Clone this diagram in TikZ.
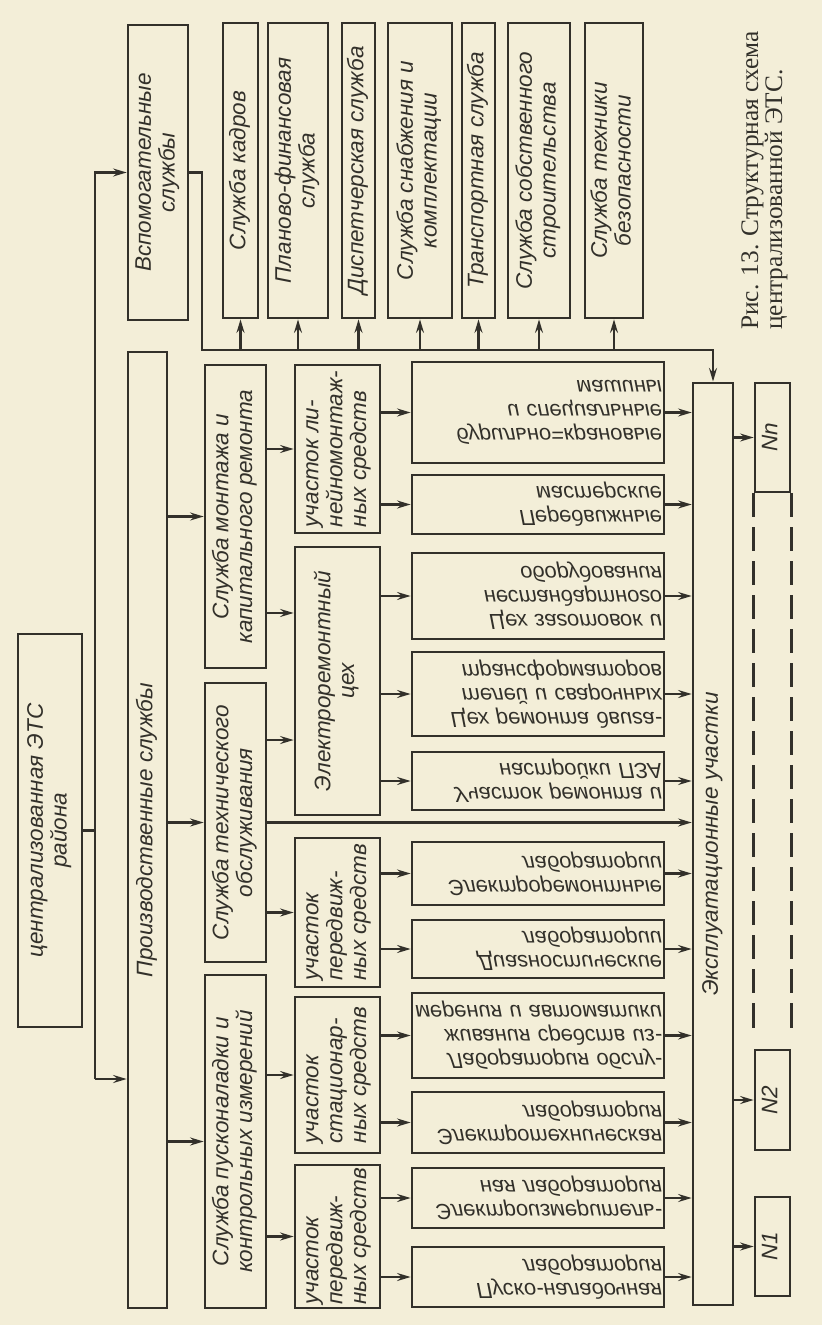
\documentclass[tikz,border=0pt]{standalone}
\usepackage{fontspec}
\usepackage{graphicx}
\setmainfont{Liberation Sans}
\newfontfamily\gost{Liberation Sans}
\newfontfamily\capfont{Liberation Serif}
\usetikzlibrary{arrows.meta}
\definecolor{paper}{RGB}{243,238,216}
\definecolor{ink}{RGB}{50,48,42}
\newcommand{\vtxt}[2][c]{\rotatebox{90}{\begin{tabular}{@{}#1@{}}#2\end{tabular}}}

\begin{document}
\begin{tikzpicture}[x=0.025cm, y=-0.025cm, >={Stealth[length=3.4mm, width=2mm, inset=1.2mm]},
	blk/.style={draw=ink, line width=1.9pt, fill=paper, inner sep=1pt, text=ink,
		font=\gost\itshape\fontsize{16}{17}\selectfont},
	lab/.style={blk, yscale=-1, minimum width=6.3cm, text width=6.2cm,
		inner xsep=0.05cm, align=right, font=\gost\itshape\fontsize{15.5}{17}\selectfont},
	lnk/.style={draw=ink, line width=1.6pt}]
	\fill[paper] (0,0) rectangle (822,1325);
	\useasboundingbox (0,0) rectangle (822,1325);
	% top of the tree
	\node[blk, minimum width=1.6cm, minimum height=9.825cm] (cent) at (50,830.5)
		{\vtxt{централизованная ЭТС\\района}};
	\node[blk, minimum width=1.5cm, minimum height=7.375cm] (vsp) at (158,172.5)
		{\vtxt{Вспомогательные\\службы}};
	\node[blk, minimum width=0.975cm, minimum height=23.9cm] (proizv) at (147.5,830)
		{\vtxt{Производственные службы}};
	% auxiliary services
	\foreach \nm/\cx/\bw/\txt in {kadr/240.5/0.875/{Служба кадров},
		plan/298/1.5/{Планово-финансовая\\служба},
		disp/358.5/0.825/{Диспетчерская служба},
		snab/420/1.6/{Служба снабжения и\\комплектации},
		trans/478.5/0.825/{Транспортная служба},
		stroi/539/1.55/{Служба собственного\\строительства},
		tb/614/1.45/{Служба техники\\безопасности}}
		{
			\node[blk, minimum width=\bw cm, minimum height=7.375cm] (\nm) at (\cx,170.5) {\vtxt{\txt}};
		}
	% production services
	\node[blk, minimum width=1.525cm, minimum height=7.575cm] (montazh) at (235.5,516.5)
		{\vtxt{Служба монтажа и\\капитального ремонта}};
	\node[blk, minimum width=1.525cm, minimum height=6.975cm] (tehob) at (235.5,822.5)
		{\vtxt{Служба технического\\обслуживания}};
	\node[blk, minimum width=1.525cm, minimum height=8.325cm] (pnr) at (235.5,1141.5)
		{\vtxt{Служба пусконаладки и\\контрольных измерений}};
	% sections
	\node[blk, minimum width=2.125cm, minimum height=4.2cm] (lin) at (337.5,449)
		{\vtxt[l]{участок ли-\\нейномонтаж-\\ных средств}};
	\node[blk, minimum width=2.125cm, minimum height=6.7cm] (erc) at (337.5,681)
		{\vtxt{Электроремонтный\\цех}};
	\node[blk, minimum width=2.125cm, minimum height=3.725cm] (per1) at (337.5,912.5)
		{\vtxt[l]{участок\\передвиж-\\ных средств}};
	\node[blk, minimum width=2.125cm, minimum height=3.9cm] (stac) at (337.5,1075)
		{\vtxt[l]{участок\\стационар-\\ных средств}};
	\node[blk, minimum width=2.125cm, minimum height=3.575cm] (per2) at (337.5,1236.5)
		{\vtxt[l]{участок\\передвиж-\\ных средств}};
	% workshops and laboratories
	\node[lab, minimum height=2.525cm] (bur) at (538,412.5) {бурильно=крановые\\и специальные\\машины};
	\node[lab, minimum height=1.475cm] (pm) at (538,504.5) {Передвижные\\мастерские};
	\node[lab, minimum height=2.15cm] (zag) at (538,596) {Цех заготовок и\\нестандартного\\оборудования};
	\node[lab, minimum height=2.1cm] (dvig) at (538,694) {Цех ремонта двига-\\телей и сварочных\\трансформаторов};
	\node[lab, minimum height=1.45cm] (pza) at (538,781) {Участок ремонта и\\настройки ПЗА};
	\node[lab, minimum height=1.575cm] (erl) at (538,873.5) {Электроремонтные\\лаборатории};
	\node[lab, minimum height=1.45cm] (diag) at (538,949) {Диагностические\\лаборатории};
	\node[lab, minimum height=2.125cm] (obsl) at (538,1035.5) {Лаборатория обслу-\\живания средств из-\\мерения и автоматики};
	\node[lab, minimum height=1.525cm] (etl) at (538,1122.5) {Электротехническая\\лаборатория};
	\node[lab, minimum height=1.5cm] (eil) at (538,1198) {Электроизмеритель-\\ная лаборатория};
	\node[lab, minimum height=1.5cm] (pnl) at (538,1277) {Пуско-наладочная\\лаборатория};
	% operating districts
	\node[blk, minimum width=1cm, minimum height=23.05cm] (expl) at (713,844)
		{\vtxt{Эксплуатационные участки}};
	\node[blk, minimum width=0.875cm, minimum height=2.725cm] (Nn) at (772.5,437.5) {\vtxt{Nn}};
	\node[blk, minimum width=0.875cm, minimum height=2.5cm] (N2) at (772.5,1100) {\vtxt{N2}};
	\node[blk, minimum width=0.875cm, minimum height=2.475cm] (N1) at (772.5,1246.5) {\vtxt{N1}};
	\node[inner sep=0pt, anchor=south west, text=ink, font=\capfont\fontsize{18}{16}\selectfont]
		(capt) at (741,330) {\vtxt[l]{Рис. 13. Структурная схема\\централизованной ЭТС.}};
	% connectors
	\coordinate (trk) at (95,1079);
	\coordinate (bus) at (202,350);
	\draw[lnk] (cent.east) -- (cent.east -| trk);
	\draw[lnk, ->] (trk) |- (vsp.west);
	\draw[lnk, ->] (trk) -- (trk -| proizv.west);
	\draw[lnk, ->] (vsp.east) -| (bus) -| (expl.north);
	\foreach \nm in {kadr,plan,disp,snab,trans,stroi,tb}
		{
			\draw[lnk, ->] (\nm.south |- bus) -- (\nm.south);
		}
	\foreach \nm in {montazh,tehob,pnr}
		{
			\draw[lnk, ->] (proizv.east |- \nm.west) -- (\nm.west);
		}
	\coordinate (ercA) at ([yshift=1.7cm]erc.west);
	\coordinate (ercB) at ([yshift=-1.475cm]erc.west);
	\draw[lnk, ->] (montazh.east |- lin.west) -- (lin.west);
	\draw[lnk, ->] (montazh.east |- ercA) -- (ercA);
	\draw[lnk, ->] (tehob.east |- ercB) -- (ercB);
	\draw[lnk, ->] (tehob.east) -- (tehob.east -| expl.west);
	\draw[lnk, ->] (tehob.east |- per1.west) -- (per1.west);
	\draw[lnk, ->] (pnr.east |- stac.west) -- (stac.west);
	\draw[lnk, ->] (pnr.east |- per2.west) -- (per2.west);
	\foreach \src/\dst in {lin/bur, lin/pm, erc/zag, erc/dvig, erc/pza, per1/erl,
		per1/diag, stac/obsl, stac/etl, per2/eil, per2/pnl}
		{
			\draw[lnk, ->] (\src.east |- \dst.west) -- (\dst.west);
			\draw[lnk, ->] (\dst.east) -- (\dst.east -| expl.west);
		}
	\foreach \nm in {Nn,N2,N1}
		{
			\draw[lnk, ->] (expl.east |- \nm.west) -- (\nm.west);
		}
	\draw[lnk, line width=2.2pt, dash pattern=on 0.6cm off 0.25cm, shorten >=0.45cm]
		(Nn.south west) -- (N2.north west);
	\draw[lnk, line width=2.2pt, dash pattern=on 0.6cm off 0.25cm, shorten >=0.45cm]
		(Nn.south east) -- (N2.north east);
\end{tikzpicture}
\end{document}
